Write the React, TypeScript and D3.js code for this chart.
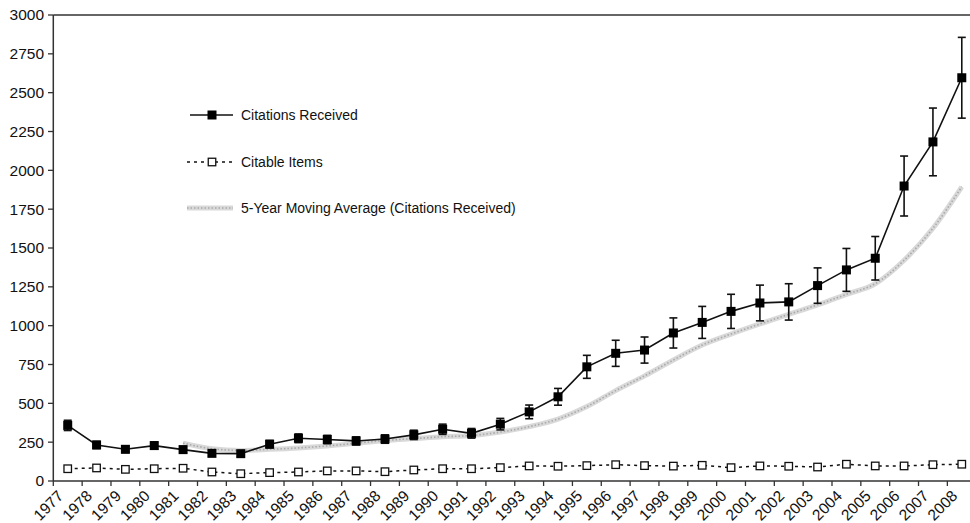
import React from "react";
import * as d3 from "d3";

const years = [
  "1977","1978","1979","1980","1981","1982","1983","1984","1985","1986","1987",
  "1988","1989","1990","1991","1992","1993","1994","1995","1996","1997","1998",
  "1999","2000","2001","2002","2003","2004","2005","2006","2007","2008",
];

const citationsReceived = [
  358, 232, 204, 228, 202, 178, 176, 237, 275, 267, 258, 270, 297, 333, 307, 366,
  445, 542, 735, 822, 843, 953, 1021, 1092, 1146, 1153, 1258, 1359, 1434, 1899, 2183, 2596,
];

const citationsError = [
  33, 23, 20, 23, 20, 18, 18, 24, 28, 27, 26, 27, 30, 33, 31, 37,
  44, 54, 74, 84, 84, 97, 103, 110, 115, 117, 114, 138, 140, 193, 218, 260,
];

const citableItems = [
  79, 84, 75, 79, 82, 58, 47, 54, 58, 65, 65, 60, 71, 79, 79, 86,
  97, 95, 99, 105, 99, 96, 101, 86, 97, 95, 90, 108, 97, 97, 105, 108,
];

const movingAvgYears = years.slice(4);
const movingAverage = [
  244, 208, 197, 204, 213, 226, 243, 261, 273, 285, 293, 315, 350, 399, 479, 582,
  677, 779, 875, 946, 1011, 1073, 1134, 1202, 1270, 1421, 1627, 1894,
];

const yTicks = [0, 250, 500, 750, 1000, 1250, 1500, 1750, 2000, 2250, 2500, 2750, 3000];

const FONT = "'Liberation Sans', Arial, Helvetica, sans-serif";
const W = 970;
const H = 523;

export default function App() {
  const x = d3.scaleBand<string>().domain(years).range([53.3, 976.2]).padding(0);
  const y = d3.scaleLinear().domain([0, 3000]).range([481, 15]);
  const cx = (yr: string) => (x(yr) as number) + x.bandwidth() / 2;

  const citLine = d3
    .line<number>()
    .x((_, i) => cx(years[i]))
    .y((d) => y(d));
  const maLine = d3
    .line<number>()
    .x((_, i) => cx(movingAvgYears[i]))
    .y((d) => y(d))
    .curve(d3.curveMonotoneX);

  const sq = 9;
  const osq = 7.5;

  return (
    <div style={{ position: "absolute", left: 0, top: 0, width: W, height: H, background: "#fff" }}>
      <svg width={W} height={H} style={{ display: "block", fontFamily: FONT }}>
        <rect x={0} y={0} width={W} height={H} fill="#fff" />
        {/* top frame line */}
        <line x1={53.3} x2={W} y1={y(3000)} y2={y(3000)} stroke="#333" strokeWidth={1.5} />
        {/* y axis */}
        <line x1={53.3} x2={53.3} y1={y(3000)} y2={y(0)} stroke="#333" strokeWidth={1.5} />
        {yTicks.map((t) => (
          <g key={t}>
            <line x1={48} x2={53.3} y1={y(t)} y2={y(t)} stroke="#333" strokeWidth={1.3} />
            <text x={44} y={y(t)} dy="0.35em" textAnchor="end" fontSize={15.5} fill="#111">
              {t}
            </text>
          </g>
        ))}
        {/* x axis */}
        <line x1={53.3} x2={W} y1={y(0)} y2={y(0)} stroke="#333" strokeWidth={1.5} />
        {years.map((yr) => {
          const tx = x(yr) as number;
          return (
            <g key={yr}>
              <line x1={tx} x2={tx} y1={y(0)} y2={y(0) + 5} stroke="#333" strokeWidth={1.3} />
              <text
                transform={`translate(${tx + 11},${y(0) + 16}) rotate(-45)`}
                textAnchor="end"
                fontSize={15.5}
                fill="#111"
              >
                {yr}
              </text>
            </g>
          );
        })}

        {/* moving average */}
        <path d={maLine(movingAverage) as string} fill="none" stroke="#d9d9d9" strokeWidth={5} />
        <path
          d={maLine(movingAverage) as string}
          fill="none"
          stroke="#a9a9a9"
          strokeWidth={1.6}
          strokeDasharray="1.5,2"
        />

        {/* citable items */}
        <path
          d={citLine(citableItems) as string}
          fill="none"
          stroke="#111"
          strokeWidth={1.5}
          strokeDasharray="3,4"
        />
        {citableItems.map((v, i) => (
          <rect
            key={"ci" + i}
            x={cx(years[i]) - osq / 2}
            y={y(v) - osq / 2}
            width={osq}
            height={osq}
            fill="#fff"
            stroke="#111"
            strokeWidth={1.3}
          />
        ))}

        {/* citations received */}
        <path d={citLine(citationsReceived) as string} fill="none" stroke="#111" strokeWidth={1.6} />
        {citationsReceived.map((v, i) => {
          const px = cx(years[i]);
          const e = citationsError[i];
          return (
            <g key={"cr" + i}>
              <line x1={px} x2={px} y1={y(v + e)} y2={y(v - e)} stroke="#111" strokeWidth={1.6} />
              <line x1={px - 4} x2={px + 4} y1={y(v + e)} y2={y(v + e)} stroke="#111" strokeWidth={1.6} />
              <line x1={px - 4} x2={px + 4} y1={y(v - e)} y2={y(v - e)} stroke="#111" strokeWidth={1.6} />
              <rect x={px - sq / 2} y={y(v) - sq / 2} width={sq} height={sq} fill="#000" />
            </g>
          );
        })}

        {/* legend */}
        <g>
          <line x1={190} x2={233} y1={115} y2={115} stroke="#111" strokeWidth={1.6} />
          <rect x={212 - sq / 2} y={115 - sq / 2} width={sq} height={sq} fill="#000" />
          <text x={241} y={115} dy="0.35em" fontSize={14} fill="#111">
            Citations Received
          </text>

          <line x1={187} x2={233} y1={162} y2={162} stroke="#111" strokeWidth={1.5} strokeDasharray="3,4" />
          <rect x={212 - osq / 2} y={162 - osq / 2} width={osq} height={osq} fill="#fff" stroke="#111" strokeWidth={1.3} />
          <text x={241} y={162} dy="0.35em" fontSize={14} fill="#111">
            Citable Items
          </text>

          <line x1={187} x2={233} y1={208} y2={208} stroke="#d9d9d9" strokeWidth={5} />
          <line x1={187} x2={233} y1={208} y2={208} stroke="#a9a9a9" strokeWidth={1.6} strokeDasharray="1.5,2" />
          <text x={241} y={208} dy="0.35em" fontSize={14} fill="#111">
            5-Year Moving Average (Citations Received)
          </text>
        </g>
      </svg>
    </div>
  );
}
